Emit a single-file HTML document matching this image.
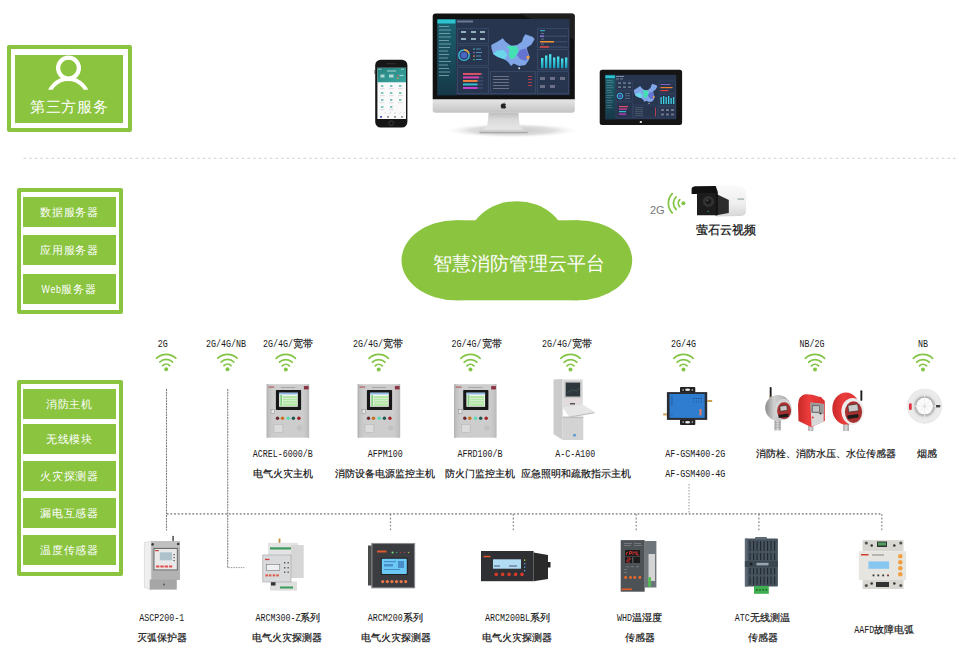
<!DOCTYPE html>
<html><head><meta charset="utf-8">
<style>
*{margin:0;padding:0;box-sizing:border-box}
html,body{width:959px;height:658px;overflow:hidden;background:#fff}
body{position:relative;font-family:"Liberation Sans",sans-serif;color:#222}
.a{position:absolute}
.g{background:#8bc43f}
.ob{position:absolute;border:4px solid #8bc43f;border-radius:2px}
.row{position:absolute;left:23px;width:93px;background:#8bc43f;color:#fff;font-size:11px;letter-spacing:.9px;text-align:center;line-height:30px;height:30px}
.lbl{position:absolute;font-size:10px;white-space:nowrap;text-align:center;transform:translateX(-50%);line-height:12px;color:#222}
.wl{position:absolute;font-size:10px;white-space:nowrap;transform:translateX(-50%);line-height:12px;color:#222}
.tl{font-family:"Liberation Mono",monospace;font-size:10.2px;fill:#1a1a1a}
.tc{font-family:"Liberation Sans",sans-serif;font-size:10px;fill:#111;stroke:#111;stroke-width:.18}
.hd{position:absolute;border-top:2px dotted #777}
.vd{position:absolute;border-left:1px dashed #888}
</style></head>
<body>
<!-- box 1 -->
<div class="ob" style="left:7px;top:45px;width:125px;height:87px"></div>
<div class="a g" style="left:15px;top:55px;width:108px;height:68px"></div>
<svg class="a" style="left:15px;top:55px" width="108" height="68" viewBox="0 0 108 68">
 <defs><clipPath id="cp1"><rect x="0" y="0" width="108" height="34.7"/></clipPath></defs>
 <circle cx="53.5" cy="13.1" r="10.4" fill="none" stroke="#fff" stroke-width="4.2"/>
 <circle cx="53.2" cy="44" r="20" fill="none" stroke="#fff" stroke-width="4" clip-path="url(#cp1)"/>
</svg>
<div class="a" style="left:15px;top:98px;width:108px;text-align:center;color:#fff;font-size:15px;line-height:18px;letter-spacing:.6px;text-indent:.6px">第三方服务</div>

<!-- dotted separator -->


<!-- box 2 -->
<div class="ob" style="left:17px;top:188px;width:106px;height:126px"></div>
<div class="row" style="top:197px">数据服务器</div>
<div class="row" style="top:235px">应用服务器</div>
<div class="row" style="top:274px"><span style="display:inline-block;transform:scaleX(.8);margin:0 -3px 0 -3px">Web</span>服务器</div>

<!-- box 3 -->
<div class="ob" style="left:17px;top:380px;width:106px;height:196px"></div>
<div class="row" style="top:389px">消防主机</div>
<div class="row" style="top:424px">无线模块</div>
<div class="row" style="top:461px">火灾探测器</div>
<div class="row" style="top:498px">漏电互感器</div>
<div class="row" style="top:535px">温度传感器</div>


<svg class="a" style="left:0;top:0" width="959" height="658" viewBox="0 0 959 658">
<defs>
 <linearGradient id="chin" x1="0" y1="0" x2="0" y2="1"><stop offset="0" stop-color="#e6e6e6"/><stop offset="1" stop-color="#c4c4c4"/></linearGradient>
 <linearGradient id="neck" x1="0" y1="0" x2="1" y2="0"><stop offset="0" stop-color="#bdbdbd"/><stop offset=".5" stop-color="#e4e4e4"/><stop offset="1" stop-color="#c8c8c8"/></linearGradient>
 <linearGradient id="camb" x1="0" y1="0" x2="0" y2="1"><stop offset="0" stop-color="#fafafa"/><stop offset=".6" stop-color="#eeeeee"/><stop offset="1" stop-color="#d6d6d6"/></linearGradient>
 <linearGradient id="cabg" x1="0" y1="0" x2="1" y2="0"><stop offset="0" stop-color="#bcbcbc"/><stop offset=".15" stop-color="#cdcdcd"/><stop offset=".85" stop-color="#cdcdcd"/><stop offset="1" stop-color="#bdbdbd"/></linearGradient>
 <g id="wf" fill="none" stroke="#82c444" stroke-width="1.75" stroke-linecap="round">
  <path d="M-9.6 -11.2 A14 14 0 0 1 9.6 -11.2"/>
  <path d="M-6.3 -7.3 A8.7 8.7 0 0 1 6.3 -7.3"/>
  <path d="M-3.5 -3.7 A5.1 5.1 0 0 1 3.5 -3.7"/>
  <circle cx="0" cy="0" r="2" fill="#82c444" stroke="none"/>
 </g>
</defs>
<path d="M23.5 158.3 H957" stroke="#cfcfcf" stroke-width="1" stroke-dasharray="2.5 3.1"/>
<!-- cloud -->
<g fill="#8bc43f">
 <ellipse cx="455.6" cy="260.3" rx="54.1" ry="40"/>
 <ellipse cx="578.1" cy="260.3" rx="54.1" ry="40"/>
 <rect x="455.6" y="220.3" width="122.5" height="80"/>
 <ellipse cx="516.85" cy="245" rx="50" ry="43.8"/>
</g>
<!-- wifi icons -->
<use href="#wf" x="166.2" y="369.3"/>
<use href="#wf" x="227.5" y="369.3"/>
<use href="#wf" x="285.8" y="369.5"/>
<use href="#wf" x="378.7" y="369.5"/>
<use href="#wf" x="470.5" y="369.5"/>
<use href="#wf" x="570.5" y="369.5"/>
<use href="#wf" x="683.5" y="369.5"/>
<use href="#wf" x="815" y="369.5"/>
<use href="#wf" x="923" y="369.5"/>
<use href="#wf" transform="translate(683.4 203.2) rotate(-90)"/>
<!-- lines -->
<g fill="none" stroke="#8a8a8a">
 <path d="M166.5 389 V530.6 M227.7 389 V567.6" stroke="#808080" stroke-width="1.1" stroke-dasharray="2 0.8"/><path d="M228.3 567.6 H244.4" stroke="#999" stroke-width="1" stroke-dasharray="1.5 1"/>
 <path d="M166.8 513.9 H882" stroke="#999" stroke-width="1.8" stroke-dasharray="1.8 1.85"/>
 <path d="M390.5 514 V531 M513.3 514 V531 M636.2 514 V531 M758.9 514 V531 M881.8 514 V531" stroke-width="1.2" stroke-dasharray="1.8 1.8"/><path d="M689 484 V514" stroke="#999" stroke-width="1" stroke-dasharray="1.5 1.5"/>
</g>
<!-- monitor -->
<radialGradient id="shd" cx=".5" cy=".5" r=".5"><stop offset="0" stop-color="#c4c4c4"/><stop offset=".6" stop-color="#dedede"/><stop offset="1" stop-color="#fff" stop-opacity="0"/></radialGradient>
<linearGradient id="neck2" x1="0" y1="0" x2="0" y2="1"><stop offset="0" stop-color="#bdbdbd"/><stop offset=".35" stop-color="#dadada"/><stop offset=".8" stop-color="#e6e6e6"/><stop offset="1" stop-color="#b8b8b8"/></linearGradient>
<ellipse cx="512" cy="130.5" rx="70" ry="7.5" fill="url(#shd)"/>
<path d="M488.7 112.5 H518.4 L519.5 124 Q520.5 129.5 527.7 130.5 V133 H479.5 V130.5 Q486.5 129.5 487.5 124 Z" fill="url(#neck2)"/>
<rect x="479.5" y="132" width="48.2" height="1.3" fill="#aaa"/>
<path d="M432.7 99 H574.8 V110 Q574.8 112.7 572 112.7 H435.5 Q432.7 112.7 432.7 110 Z" fill="url(#chin)"/>
<path d="M432.7 16.5 Q432.7 13.6 435.6 13.6 H571.9 Q574.8 13.6 574.8 16.5 V99.3 H432.7 Z" fill="#111"/>
<path d="M520 13.6 H571.9 Q574.8 13.6 574.8 16.5 V40 Z" fill="#2a2a2a" opacity=".6"/>
<path d="M503.7 103.6 C505.5 103.3 506 104.3 506 104.3 C505 105 505.2 106.5 506.2 107 C505.8 108 505 108.6 504.5 108.6 C504 108.6 503.8 108.3 503.3 108.3 C502.8 108.3 502.5 108.6 502 108.6 C501.2 108.4 500.6 107 500.8 105.5 C501 104 502.5 103.4 503.7 103.6 Z M503.8 103.2 C503.8 102.6 504.3 102.1 504.9 102" fill="#222"/>
<rect x="437.4" y="19" width="132.3" height="76.2" fill="#27354f"/>
<linearGradient id="sb" x1="0" y1="0" x2="0" y2="1"><stop offset="0" stop-color="#1b6270"/><stop offset="1" stop-color="#163848"/></linearGradient><rect x="437.4" y="19" width="18.5" height="76.2" fill="url(#sb)"/>
<rect x="437.4" y="19.5" width="18" height="4" fill="#2cc4cf"/>
<g fill="#8fb7c0" opacity=".7">
 <rect x="439" y="26" width="10" height="1"/><rect x="439" y="29.5" width="12" height="1"/><rect x="439" y="33" width="11" height="1"/>
 <rect x="439" y="36.5" width="12" height="1"/><rect x="439" y="40" width="10" height="1"/><rect x="439" y="43.5" width="12" height="1"/>
 <rect x="439" y="47" width="11" height="1"/><rect x="439" y="50.5" width="9" height="1"/><rect x="439" y="54" width="10" height="1"/>
 <rect x="439" y="57.5" width="9" height="1"/><rect x="439" y="61" width="12" height="1"/><rect x="439" y="64.5" width="9" height="1"/>
 <rect x="439" y="68" width="10" height="1"/><rect x="439" y="71.5" width="11" height="1"/><rect x="439" y="75" width="10" height="1"/>
</g>
<rect x="457" y="20.5" width="16" height="2" fill="#9aa8c0" opacity=".6"/>
<g fill="none" stroke="#3b4d6b" stroke-width=".8">
 <rect x="457.5" y="28.5" width="31" height="15"/>
 <rect x="457.5" y="45.5" width="31" height="20"/>
 <rect x="457.5" y="67.5" width="31" height="26"/>
 <rect x="490.5" y="71.5" width="45" height="22"/>
 <rect x="537.5" y="28.5" width="31" height="19"/>
 <rect x="537.5" y="49.5" width="31" height="20"/>
 <rect x="537.5" y="71.5" width="31" height="22"/>
</g>
<circle cx="464" cy="55.2" r="5.2" fill="none" stroke="#3bc0e8" stroke-width="1.4"/>
<path d="M464 50 A5.2 5.2 0 0 1 469 53.8" fill="none" stroke="#f0a040" stroke-width="1.4"/>
<circle cx="464" cy="55.2" r="3.3" fill="#4a66c8"/>
<g fill="#5fa8d0" opacity=".8"><rect x="473" y="48.5" width="2" height="1.2" fill="#40c0c0"/><rect x="476" y="48.5" width="5" height="1"/><rect x="473" y="52" width="2" height="1.2" fill="#9070d0"/><rect x="476" y="52" width="6" height="1"/><rect x="473" y="55.5" width="2" height="1.2" fill="#f09040"/><rect x="476" y="55.5" width="5" height="1"/><rect x="473" y="59" width="2" height="1.2" fill="#40c080"/><rect x="476" y="59" width="6" height="1"/></g>
<g fill="#b8d8e0" opacity=".75"><rect x="461" y="31" width="5" height="2"/><rect x="471" y="31" width="5" height="2"/><rect x="480" y="31" width="5" height="2"/><rect x="461" y="38" width="5" height="2"/><rect x="471" y="38" width="5" height="2"/><rect x="480" y="38" width="5" height="2"/></g>
<g>
 <rect x="463" y="73" width="20" height="1.9" fill="#3a4866"/><rect x="463" y="76.5" width="20" height="1.9" fill="#3a4866"/><rect x="463" y="80" width="20" height="1.9" fill="#3a4866"/><rect x="463" y="83.5" width="20" height="1.9" fill="#3a4866"/><rect x="463" y="87" width="20" height="1.9" fill="#3a4866"/>
 <rect x="463" y="73" width="18" height="1.9" fill="#e0506a"/>
 <rect x="463" y="76.5" width="16" height="1.9" fill="#e040b0"/>
 <rect x="463" y="80" width="14.5" height="1.9" fill="#f08040"/>
 <rect x="463" y="83.5" width="14.5" height="1.9" fill="#30c0d0"/>
 <rect x="463" y="87" width="14.5" height="1.9" fill="#d040d0"/>
</g>
<g id="map">
 <path d="M491.2 45.1 L497.3 41.7 L502.8 38.3 L505.5 41.7 L511 45.8 L517.1 45.1 L521.9 41.7 L523.3 37.6 L525.4 34.2 L532.9 36.9 L534.6 39.3 L531.5 44.4 L526.7 47.8 L527.4 50.6 L529.5 56.7 L528.8 60.1 L525.4 64.9 L519.2 66 L513.7 63.6 L511 66 L508.3 62.2 L504.8 59.5 L497.3 56.7 L493.2 53.9 L491.5 48.5 Z" fill="#80a6e8"/>
 <path d="M493.2 53.9 L497.3 50.5 L504 50 L507 55 L504.8 59.5 L497.3 56.7 Z" fill="#6cd6ea"/>
 <path d="M506.5 46.5 L511 45.8 L517 46.5 L518.5 51 L515 57.5 L511 59.5 L508.5 55 L510 50 Z" fill="#44e2b2"/>
 <path d="M520 50 L526 48.5 L528.5 55 L526 61 L520 59 L517 55 Z" fill="#5c62c8" opacity=".75"/>
 <circle cx="528" cy="57.3" r="1.6" fill="#f0a040"/>
 <circle cx="519.2" cy="68.3" r="1" fill="#d8e0f0"/>
</g>
<linearGradient id="cyb" x1="0" y1="0" x2="0" y2="1"><stop offset="0" stop-color="#4ae8f0"/><stop offset="1" stop-color="#1a9ab8"/></linearGradient>
<g fill="url(#cyb)">
 <rect x="541" y="58" width="2.4" height="10.2"/><rect x="545" y="55.5" width="2.4" height="12.7"/><rect x="549" y="54.2" width="2.4" height="14"/>
 <rect x="553" y="57.5" width="2.4" height="10.7"/><rect x="557" y="56.5" width="2.4" height="11.7"/><rect x="561" y="58.5" width="2.4" height="9.7"/><rect x="565" y="57.5" width="2.4" height="10.7"/>
</g>
<g fill="#3a4866"><rect x="540" y="35.5" width="27" height="1.5"/><rect x="540" y="41" width="27" height="1.5"/><rect x="540" y="46.2" width="27" height="1.5"/></g>
<rect x="540" y="35.5" width="4" height="1.5" fill="#9070d8"/>
<rect x="540" y="41" width="14" height="1.5" fill="#f09030"/>
<rect x="540" y="46.2" width="9" height="1.5" fill="#e04a40"/>
<g fill="#8a9ab8" opacity=".6"><rect x="541" y="33" width="3" height="1"/><rect x="541" y="38.5" width="3" height="1"/><rect x="541" y="43.7" width="3" height="1"/></g>
<rect x="540" y="30" width="5" height="1.2" fill="#3cc0d8" opacity=".8"/>
<g fill="#99a" opacity=".6"><rect x="493" y="76" width="16" height="1"/><rect x="493" y="79" width="16" height="1"/><rect x="493" y="82" width="16" height="1"/><rect x="493" y="85" width="16" height="1"/><rect x="493" y="88" width="16" height="1"/></g>
<g fill="#d04050" opacity=".8"><rect x="528" y="76" width="4" height="1"/><rect x="528" y="79" width="4" height="1"/><rect x="528" y="82" width="4" height="1"/><rect x="528" y="85" width="4" height="1"/></g>
<g fill="#aab" opacity=".5"><rect x="540" y="77" width="5" height="3"/><rect x="550" y="77" width="5" height="3"/><rect x="560" y="77" width="5" height="3"/><rect x="540" y="85" width="5" height="3"/><rect x="550" y="85" width="5" height="3"/></g>
<!-- phone -->
<linearGradient id="phh" x1="0" y1="0" x2="1" y2="1"><stop offset="0" stop-color="#26827e"/><stop offset="1" stop-color="#3aa6a0"/></linearGradient>
<rect x="375.2" y="59.7" width="32.2" height="67.8" rx="5.5" fill="#161616"/>
<rect x="374.6" y="70" width=".8" height="4" fill="#333"/>
<rect x="377.4" y="67.8" width="28.6" height="51.2" fill="#fafafa"/>
<rect x="377.4" y="67.8" width="28.6" height="14.5" fill="url(#phh)"/>
<g fill="#d8efec" opacity=".75"><rect x="378.5" y="68.8" width="3" height=".8"/><rect x="387" y="70.5" width="9" height="1"/><rect x="401" y="68.8" width="3" height=".8"/>
<rect x="380.5" y="74.5" width="4" height="3"/><rect x="389" y="74.5" width="4.5" height="3"/><rect x="397" y="75" width="1.5" height="1.5" fill="#e04a4a"/><rect x="399.5" y="75" width="4" height="1"/><rect x="397" y="77.5" width="1.5" height="1.5" fill="#f0a030"/></g>
<g fill="#7fc4bc"><rect x="381" y="85" width="2.4" height="2"/><rect x="390" y="85" width="2.4" height="2"/><rect x="399" y="85" width="2.4" height="2"/>
<rect x="381" y="92" width="2.4" height="2"/><rect x="390" y="92" width="2.4" height="2"/><rect x="399" y="92" width="2.4" height="2"/>
<rect x="381" y="99" width="2.4" height="2"/><rect x="390" y="99" width="2.4" height="2"/><rect x="399" y="99" width="2.4" height="2"/>
<rect x="381" y="106" width="2.4" height="2"/><rect x="390" y="106" width="2.4" height="2"/></g>
<g fill="#c8c8c8"><rect x="380" y="88.5" width="4.5" height=".6"/><rect x="389" y="88.5" width="4.5" height=".6"/><rect x="398" y="88.5" width="4.5" height=".6"/><rect x="380" y="95.5" width="4.5" height=".6"/><rect x="389" y="95.5" width="4.5" height=".6"/><rect x="398" y="95.5" width="4.5" height=".6"/><rect x="380" y="102.5" width="4.5" height=".6"/><rect x="389" y="102.5" width="4.5" height=".6"/><rect x="398" y="102.5" width="4.5" height=".6"/><rect x="380" y="109.5" width="4.5" height=".6"/><rect x="389" y="109.5" width="4.5" height=".6"/></g>
<g stroke="#bbb" stroke-width=".5"><path d="M384 114 L386 112 M389 114 L391 112 M394 114 L396 112 M399 114 L401 112 M403 114 L405 112"/></g>
<g fill="#999"><rect x="380" y="116" width="2" height="1.8" fill="#5060c0"/><rect x="387" y="116" width="2" height="1.8"/><rect x="394" y="116" width="2" height="1.8"/><rect x="401" y="116" width="2" height="1.8"/></g>
<rect x="386" y="63.3" width="10" height="1" rx=".5" fill="#333"/>
<circle cx="391.2" cy="123.3" r="2.4" fill="none" stroke="#444" stroke-width=".8"/>
<!-- tablet -->
<rect x="599.7" y="69.7" width="82.4" height="55.3" rx="2.5" fill="#151515"/>
<rect x="605.4" y="74.8" width="70.9" height="44.5" fill="#27354f"/>
<rect x="605.4" y="74.8" width="9.8" height="44.5" fill="url(#sb)"/>
<rect x="605.4" y="75.5" width="9.5" height="2.5" fill="#2cc4cf"/>
<g fill="#8fb7c0" opacity=".6"><rect x="606.5" y="80" width="6" height=".6"/><rect x="606.5" y="82.5" width="7" height=".6"/><rect x="606.5" y="85" width="6" height=".6"/><rect x="606.5" y="87.5" width="7" height=".6"/><rect x="606.5" y="90" width="5" height=".6"/><rect x="606.5" y="92.5" width="6" height=".6"/><rect x="606.5" y="95" width="7" height=".6"/><rect x="606.5" y="97.5" width="5" height=".6"/><rect x="606.5" y="100" width="6" height=".6"/><rect x="606.5" y="102.5" width="6" height=".6"/><rect x="606.5" y="105" width="5" height=".6"/><rect x="606.5" y="107.5" width="6" height=".6"/></g>
<rect x="616" y="76" width="8" height="1" fill="#aab4c8" opacity=".7"/>
<rect x="616" y="78.3" width="3" height="1.2" fill="#aab4c8" opacity=".5"/><rect x="620" y="78.3" width="3" height="1.2" fill="#aab4c8" opacity=".5"/>
<g fill="none" stroke="#3b4d6b" stroke-width=".5">
 <rect x="616" y="81" width="16.5" height="9"/><rect x="616" y="91" width="16.5" height="10"/><rect x="616" y="102" width="16.5" height="16"/>
 <rect x="633.5" y="105" width="24.5" height="13"/>
 <rect x="659" y="81" width="16.5" height="12"/><rect x="659" y="94" width="16.5" height="12"/><rect x="659" y="107" width="16.5" height="11"/>
</g>
<g fill="#b8d8e0" opacity=".6"><rect x="618" y="82.5" width="3" height="1.2"/><rect x="623" y="82.5" width="3" height="1.2"/><rect x="628" y="82.5" width="3" height="1.2"/><rect x="618" y="86.5" width="3" height="1.2"/><rect x="623" y="86.5" width="3" height="1.2"/><rect x="628" y="86.5" width="3" height="1.2"/></g>
<use href="#map" transform="translate(633.9 83.4) scale(0.54 0.58) translate(-491.2 -33.8)"/>
<circle cx="620" cy="96" r="2.8" fill="none" stroke="#3bc0e8" stroke-width="1"/>
<circle cx="620" cy="96" r="1.6" fill="#4a66c8"/>
<g fill="#7fa8c0" opacity=".7"><rect x="625" y="93" width="5" height=".7"/><rect x="625" y="95.5" width="5" height=".7"/><rect x="625" y="98" width="5" height=".7"/></g>
<g><rect x="619" y="106" width="9" height="1.2" fill="#e0506a"/><rect x="619" y="108.5" width="8" height="1.2" fill="#e040a0"/><rect x="619" y="111" width="7" height="1.2" fill="#30c0d0"/><rect x="619" y="113.5" width="7" height="1.2" fill="#d040d0"/></g>
<g fill="#99a" opacity=".55"><rect x="635" y="107.5" width="8" height=".6"/><rect x="635" y="109.5" width="8" height=".6"/><rect x="635" y="111.5" width="8" height=".6"/><rect x="635" y="113.5" width="8" height=".6"/><rect x="635" y="115.5" width="8" height=".6"/></g>
<g fill="#d04050" opacity=".8"><rect x="655" y="107.5" width="1" height="9"/></g>
<g><rect x="660.5" y="84" width="10" height="1" fill="#8060c0"/><rect x="660.5" y="87" width="12" height="1.2" fill="#f08030"/><rect x="660.5" y="90" width="8" height="1.2" fill="#e04040"/></g>
<g fill="#3cd0e0"><rect x="660.5" y="97" width="1.3" height="7"/><rect x="663" y="96" width="1.3" height="8"/><rect x="665.5" y="97" width="1.3" height="7"/><rect x="668" y="96" width="1.3" height="8"/><rect x="670.5" y="98" width="1.3" height="6"/><rect x="673" y="97" width="1.3" height="7"/></g>
<g fill="#aab" opacity=".55"><rect x="661" y="109" width="3" height="2"/><rect x="666" y="109" width="3" height="2"/><rect x="671" y="109" width="3" height="2"/><rect x="661" y="113.5" width="3" height="2"/><rect x="666" y="113.5" width="3" height="2"/><rect x="671" y="113.5" width="3" height="2"/></g>
<rect x="639.8" y="121" width="2" height="2" fill="#ddd"/>
<!-- camera -->
<path d="M716 186 Q730 184.5 741 186.5 Q746 188 746 193 V211 Q746 215.5 741 216 L716 216.5 Z" fill="url(#camb)"/>
<path d="M716.4 194 L728.8 199.9 V213 L715 215.5 Z" fill="#2c2c2c"/>
<path d="M691.6 188.5 Q692 186.5 695 186.3 L715.7 186 L717.8 192 V215.2 H697 V194 L691.6 194 Z" fill="#111"/>
<path d="M697 193 H716 V215 H697 Z" fill="#1c1c1c"/>
<circle cx="708.4" cy="201.4" r="5.5" fill="#333"/>
<circle cx="708.4" cy="201.4" r="3" fill="#1a1a1a"/>
<circle cx="707.3" cy="200.3" r="1" fill="#555"/>
<circle cx="708.2" cy="211.4" r=".8" fill="#2a7a70"/>
<rect x="737.5" y="198.5" width="6.5" height="1.2" fill="#9aa"/>
<!-- cabinets -->
<g id="cab">
 <rect x="266.7" y="384.2" width="42.4" height="53.5" fill="url(#cabg)"/>
 <rect x="266.7" y="384.2" width="1.4" height="53.5" fill="#b5b5b5"/>
 <rect x="307.7" y="384.2" width="1.4" height="53.5" fill="#bdbdbd"/>
 <rect x="275.9" y="389.9" width="25.2" height="20.1" rx=".8" fill="#171717"/>
 <rect x="279.1" y="392.7" width="18.7" height="14.1" fill="#f2f6ee"/>
 <rect x="279.1" y="392.7" width="18.7" height="1.7" fill="#8ab8e8"/>
 <rect x="280.3" y="395" width="1.8" height="11" fill="#7fd07f"/>
 <rect x="282.8" y="396" width="14.2" height="10" fill="#b4e6a8"/>
 <g fill="#f2f6ee"><rect x="282.8" y="398.2" width="14.2" height=".5"/><rect x="282.8" y="400.5" width="14.2" height=".5"/><rect x="282.8" y="402.8" width="14.2" height=".5"/></g>
 <rect x="271" y="409.7" width="3.7" height="3.7" fill="#e6e6e6" stroke="#888" stroke-width=".5"/>
 <circle cx="277.5" cy="418.2" r="1.7" fill="#6a2a30"/>
 <circle cx="282.5" cy="418.2" r="1.7" fill="#c87020"/>
 <circle cx="288.2" cy="418.2" r="1.8" fill="#5fd8b8"/>
 <circle cx="293.4" cy="418.2" r="1.7" fill="#205850"/>
 <circle cx="298.9" cy="418.2" r="1.7" fill="#a02028"/>
 <rect x="274" y="424.3" width="8.9" height="8.3" fill="#dcdcdc" stroke="#b0b0b0" stroke-width=".5"/>
 <circle cx="299.7" cy="428" r="2.8" fill="#c2c2c2"/>
 <rect x="303.9" y="386.1" width="4.7" height="3.3" fill="#8a3040"/>
 <rect x="268.4" y="386.5" width="5.8" height="1.2" fill="#b06060"/>
 <rect x="281" y="387.2" width="14" height=".7" fill="#999"/>
</g>
<use href="#cab" x="91" y="0"/>
<use href="#cab" x="187.3" y="0"/>
<!-- console -->
<path d="M553.5 379.5 L562.6 378.9 V440 L553.5 434 Z" fill="#cbcbcb"/>
<rect x="562.6" y="379.4" width="20.2" height="28.2" fill="#dddddd"/>
<rect x="564.3" y="381.2" width="17.2" height="16.8" fill="#c8c8c8"/>
<rect x="565.7" y="382.6" width="14.4" height="13.9" fill="#2e383c"/>
<path d="M567 393 L572 390 L577 391 L579 388" stroke="#5a7a70" stroke-width=".4" fill="none"/>
<rect x="565" y="398.5" width="16" height="4.5" fill="#e4dcdc"/>
<rect x="570" y="403" width="5" height="1.5" fill="#555"/>
<path d="M562.6 407.6 L582.8 404.5 L594.5 412 L569 416.5 Z" fill="#e6e6e6"/>
<path d="M569 416.5 L594.5 412 V413.2 L569 417.7 Z" fill="#bdbdbd"/>
<rect x="562.6" y="416.7" width="20.7" height="23.3" fill="#d3d3d3"/>
<rect x="562.6" y="416.7" width="20.7" height="1.5" fill="#c0c0c0"/>
<rect x="573" y="434" width="3" height="2.5" fill="#6aa0d0"/>
<!-- GSM -->
<rect x="680" y="386.9" width="15.3" height="6" rx="1" fill="#222"/>
<rect x="680" y="419" width="15.3" height="6" rx="1" fill="#222"/>
<ellipse cx="687.6" cy="389.8" rx="2.5" ry="1.3" fill="#e8e8e8"/>
<ellipse cx="687.6" cy="422.2" rx="2.5" ry="1.3" fill="#e8e8e8"/>
<rect x="666.9" y="392.1" width="40.3" height="27.8" fill="#2a2d33"/>
<rect x="669.5" y="394" width="35.2" height="23.9" fill="#2f7dd0"/>
<rect x="707.2" y="400" width="5" height="2" fill="#c8a050"/>
<rect x="663.2" y="413.4" width="3.7" height="2" fill="#c8a050"/>
<rect x="699.5" y="409" width="2" height="6.5" fill="#e87a60"/>
<rect x="671.5" y="396" width=".9" height="10" fill="#1f4f88" opacity=".7"/>
<rect x="671.5" y="414" width=".9" height="1.5" fill="#1f4f88" opacity=".7"/>
<g fill="#1f4f88" opacity=".6"><rect x="693.2" y="400.5" width=".8" height="2.5"/><rect x="695.8" y="400.5" width=".8" height="2.5"/><rect x="698.5" y="400.5" width=".8" height="2.5"/><rect x="701" y="400.5" width=".8" height="2.5"/></g>
<g fill="#eee"><path d="M682 389.9 L683.5 388.9 V390.9 Z M693.3 389.9 L691.8 388.9 V390.9 Z M682 422.1 L683.5 421.1 V423.1 Z M693.3 422.1 L691.8 421.1 V423.1 Z"/></g>
<g fill="#1a3a60"><rect x="693.2" y="398" width="1" height="1"/><rect x="695.8" y="398" width="1" height="1"/><rect x="698.5" y="398" width="1" height="1"/><rect x="701" y="398" width="1" height="1"/></g>
<!-- sensors -->
<linearGradient id="slv" x1="0" y1="0" x2="1" y2="0"><stop offset="0" stop-color="#8a8a8a"/><stop offset=".35" stop-color="#d0d0d0"/><stop offset=".7" stop-color="#b8b8b8"/><stop offset="1" stop-color="#9a9a9a"/></linearGradient>
<linearGradient id="stem" x1="0" y1="0" x2="1" y2="0"><stop offset="0" stop-color="#a0a0a0"/><stop offset=".5" stop-color="#dcdcdc"/><stop offset="1" stop-color="#9a9a9a"/></linearGradient>
<linearGradient id="redc" x1="0" y1="0" x2="1" y2="0"><stop offset="0" stop-color="#c82828"/><stop offset=".4" stop-color="#ec3c3c"/><stop offset="1" stop-color="#d83232"/></linearGradient>
<rect x="769.7" y="386.9" width="1.9" height="11" rx=".9" fill="#1e1e1e"/>
<rect x="769.5" y="396.5" width="2.3" height="2" fill="#a08040"/>
<rect x="774.5" y="419" width="6.2" height="11.5" fill="url(#stem)"/>
<g stroke="#8a8a8a" stroke-width=".4"><path d="M774.5 422.5 H780.7 M774.5 425 H780.7 M774.5 427.5 H780.7"/></g>
<ellipse cx="778" cy="407.8" rx="12.8" ry="12.9" fill="url(#slv)"/>
<ellipse cx="783.4" cy="409.5" rx="8.6" ry="10.7" fill="#d4d4d4"/>
<ellipse cx="784.1" cy="410.7" rx="7" ry="8.4" fill="#a83030"/>
<rect x="780" y="405.8" width="7" height="5" fill="#c8c8c8" stroke="#222" stroke-width=".5" transform="rotate(-8 783.5 408)"/>
<rect x="778.5" y="414.2" width="10" height="3.2" fill="#1c1c1c" transform="rotate(-8 783.5 416)"/>
<rect x="808.2" y="425" width="5.1" height="6" fill="url(#stem)"/>
<path d="M798 405 Q798.5 395.5 805 394.2 Q812 393.8 818 396.5 L821 397 L824.8 401 V421 L811 427 L798.5 421 Z" fill="url(#redc)"/>
<path d="M810.5 402.4 L823.7 404 V422 L811.5 426.5 Z" fill="#d8d8d8"/>
<path d="M810.5 402.4 L823.7 404 V414 L810.8 412.5 Z" fill="#9a9a9a"/>
<rect x="812.2" y="405.8" width="7.4" height="6.3" fill="#c4c4c4" stroke="#333" stroke-width=".5"/>
<circle cx="812.8" cy="417.5" r="1" fill="#d84040"/>
<circle cx="820.5" cy="413.5" r="1" fill="#333"/>
<rect x="860.4" y="390.3" width="1.9" height="10.5" rx=".9" fill="#1e1e1e"/>
<rect x="843.2" y="423" width="5.7" height="8" fill="url(#stem)"/>
<ellipse cx="846" cy="408.6" rx="13.7" ry="16" fill="url(#redc)"/>
<ellipse cx="852.6" cy="411.3" rx="11.2" ry="13.4" fill="#ececec"/>
<ellipse cx="853.5" cy="412.1" rx="8.6" ry="10.9" fill="#a83030"/>
<rect x="848.3" y="404.7" width="9.8" height="6.8" fill="#cacaca" stroke="#222" stroke-width=".5" transform="rotate(-8 853 408)"/>
<rect x="847.5" y="414.8" width="11" height="3.5" fill="#1c1c1c" transform="rotate(-8 853 416.5)"/>
<!-- smoke -->
<radialGradient id="smk" cx=".5" cy=".5" r=".5"><stop offset=".55" stop-color="#e2e2e2"/><stop offset=".85" stop-color="#ececec"/><stop offset="1" stop-color="#e6e6e6"/></radialGradient>
<radialGradient id="smr" cx=".5" cy=".5" r=".5"><stop offset=".7" stop-color="#9c9c9c"/><stop offset="1" stop-color="#d6d6d6"/></radialGradient>
<circle cx="924.6" cy="406.2" r="17.5" fill="url(#smk)"/>
<circle cx="924.6" cy="406.2" r="11" fill="url(#smr)"/>
<circle cx="924.6" cy="406.2" r="8.4" fill="#fbfbfb"/>
<g stroke="#dcdcdc" stroke-width=".4"><path d="M924.6 398.5 V414 M917 406.2 H932.3 M919.2 400.8 L930 411.6 M930 400.8 L919.2 411.6"/></g>
<circle cx="924.6" cy="406.2" r="1.2" fill="none" stroke="#ccc" stroke-width=".4"/>
<g stroke="#f4f4f4" stroke-width=".8"><path d="M924.6 395 V397.5 M924.6 415 V417.5 M913.4 406.2 H916 M933.2 406.2 H935.8"/></g>
<rect x="909" y="403.2" width="2.7" height="6.8" rx="1.2" fill="#e23040"/>
<rect x="936" y="405" width="4.2" height="2.4" fill="#444"/>
<!-- ASCP200 -->
<rect x="172.3" y="535.9" width="1.6" height="5.8" fill="#555"/>
<path d="M144.4 542.5 L151.3 541.2 V589.6 L144.4 587.5 Z" fill="#efefef"/>
<path d="M144.4 542.5 L151.3 541.2 V589.6 L144.4 587.5 Z" fill="none" stroke="#d0d0d0" stroke-width=".6"/>
<rect x="151.3" y="541.2" width="28.7" height="38.8" fill="#b2b2b2"/>
<rect x="151.3" y="541.2" width="28.7" height="6" fill="#c0c0c0"/>
<rect x="149.7" y="579.5" width="27.1" height="10.1" fill="#a6a6a6"/>
<circle cx="152.6" cy="544.4" r="1.3" fill="#3a3a3a"/>
<circle cx="178.2" cy="544" r="1.3" fill="#3a3a3a"/>
<rect x="153.5" y="548" width="24.3" height="22.4" fill="#6a6a6a"/>
<rect x="154.5" y="549" width="22.3" height="20.4" fill="#e9e9e9"/>
<rect x="155.2" y="550" width="3.5" height="1.2" fill="#c03838"/>
<rect x="159.8" y="552.3" width="12.2" height="8" fill="#aec2cc"/>
<g fill="#e05050"><rect x="156" y="565.5" width="3.4" height="2"/><rect x="160.3" y="565.5" width="3.4" height="2"/><rect x="164.6" y="565.5" width="3.4" height="2"/><rect x="168.9" y="565.5" width="3.4" height="2"/></g>
<g fill="#444"><rect x="173.5" y="554" width="1.2" height="1.2"/><rect x="173.5" y="557" width="1.2" height="1.2"/><rect x="173.5" y="560" width="1.2" height="1.2"/></g>
<circle cx="164" cy="584.5" r="1" fill="#555"/>
<!-- ARCM300-Z -->
<rect x="278.6" y="538.5" width="1.8" height="5" fill="#c09040"/>
<rect x="268" y="542.8" width="30" height="12.7" fill="#e3e3e3"/>
<rect x="270" y="547.3" width="26" height="2.2" fill="#3a9a5a"/>
<rect x="291" y="545" width="12.7" height="33" fill="#d6d6d6"/>
<rect x="270" y="581.5" width="27" height="9.1" fill="#dedede"/>
<rect x="271" y="581.5" width="4.5" height="4" fill="#333"/>
<rect x="280" y="586.5" width="13" height="2" fill="#3a9a5a"/>
<rect x="262.8" y="555" width="28.2" height="27" fill="#d8dadc"/>
<rect x="262.8" y="555" width="28.2" height="27" fill="none" stroke="#a0a0a0" stroke-width=".6"/>
<rect x="265" y="558.8" width="4.5" height="1.3" fill="#d04040"/>
<rect x="266.5" y="564.6" width="13.3" height="5.8" fill="#eef0f2" stroke="#666" stroke-width=".5"/>
<g fill="#e05a4a"><rect x="265.4" y="574.4" width="2.6" height="2"/><rect x="268.8" y="574.4" width="2.6" height="2"/><rect x="272.7" y="574.4" width="2.6" height="2"/><rect x="276.3" y="574.4" width="2.6" height="2"/></g>
<g fill="#555"><rect x="284" y="562" width="1.3" height="1.5"/><rect x="287.5" y="562" width="1.3" height="1.5"/><rect x="284" y="567" width="1.3" height="1.5"/><rect x="287.5" y="567" width="1.3" height="1.5"/><rect x="284" y="571.5" width="1.3" height="1.5"/><rect x="287.5" y="571.5" width="1.3" height="1.5"/></g>
<!-- ARCM200 -->
<rect x="368" y="545.5" width="4.5" height="40" fill="#4a4a4a"/>
<rect x="371.7" y="543.3" width="43.1" height="44.7" fill="#3a3c40"/>
<rect x="371.9" y="543.5" width="42.7" height="44.3" fill="none" stroke="#8c8c92" stroke-width="1.1"/>
<rect x="380.8" y="557.7" width="27" height="17.3" rx="1" fill="#1e2022"/>
<rect x="377" y="550.5" width="9.5" height="2" fill="#d85a30"/>
<g><circle cx="392.6" cy="552.5" r="1.1" fill="#70e070"/><circle cx="396.6" cy="552.5" r=".7" fill="#40a070"/><circle cx="400.4" cy="552.5" r=".7" fill="#a04040"/><circle cx="404.4" cy="552.5" r=".7" fill="#a04070"/><circle cx="408.6" cy="552.5" r=".8" fill="#a0c040"/></g>
<rect x="381.8" y="558.7" width="25" height="15.3" rx=".8" fill="#6cc8f4"/>
<g fill="#3a78b8" opacity=".7"><rect x="384" y="561" width="12" height="1.2"/><rect x="384" y="564" width="9" height="2.5"/><rect x="398" y="561" width="6" height="7"/><rect x="384" y="569" width="16" height="1"/></g>
<g fill="#f07848"><circle cx="382.7" cy="581.6" r="1.6"/><circle cx="387.3" cy="581.6" r="1.6"/><circle cx="391.9" cy="581.6" r="1.6"/><circle cx="396.5" cy="581.6" r="1.6"/><circle cx="401.1" cy="581.6" r="1.6"/><circle cx="405.7" cy="581.6" r="1.6"/></g>
<!-- ARCM200BL -->
<path d="M533.6 552.6 L548 555 V579 L533.6 581.2 Z" fill="#2a2a2a"/>
<rect x="548" y="562" width="2.5" height="5.5" fill="#222"/>
<rect x="481" y="551" width="52.6" height="30.2" fill="#2e3033"/>
<rect x="483.5" y="555.8" width="7" height="1.5" fill="#e05a2a"/>
<rect x="493" y="559.3" width="28" height="9.4" fill="#b2dcf4"/>
<g fill="#5a6a90" opacity=".6"><rect x="494" y="565" width="6" height="2"/><rect x="509" y="565" width="8" height="2"/></g>
<g fill="#5a9ae0"><rect x="524" y="559.5" width="1.3" height="1.3" fill="#b0e040"/><rect x="524" y="563" width="1.3" height="1.3"/><rect x="524" y="566.5" width="1.3" height="1.3"/><rect x="524" y="570" width="1.3" height="1.3"/></g>
<g fill="#d83a2a"><circle cx="496.2" cy="574.4" r="1.8"/><circle cx="502.7" cy="574.4" r="1.8"/><circle cx="509.1" cy="574.4" r="1.8"/><circle cx="515.6" cy="574.4" r="1.8"/><circle cx="522" cy="574.4" r="1.8"/></g>
<!-- WHD -->
<rect x="644.7" y="541" width="11.7" height="46.5" fill="#6e767b"/>
<rect x="648.5" y="554" width="6.5" height="27" fill="#d4d4d4"/>
<rect x="648.3" y="577" width="2.6" height="10" rx="1" fill="#50c050"/>
<rect x="620.7" y="540.1" width="24" height="51.6" fill="#4d5256"/>
<rect x="625" y="550" width="15" height="6.3" fill="#1c1c1c"/>
<g fill="none" stroke="#e83030" stroke-width=".8"><path d="M626.5 555 V552.5 H628 M629.5 555 V551.5 H631.5 V553.5 H629.5 M633 555 V551.5 L634.5 553 L636 551.5 V555 M637 551.5 V555 H639"/></g>
<rect x="625" y="557" width="7" height="6" fill="#1c1c1c"/>
<path d="M627 558 H630 V560 H627 V562 H630" fill="none" stroke="#e83030" stroke-width=".8"/>
<rect x="633.5" y="557" width="6.5" height="6" fill="#1c1c1c"/>
<g fill="#9aa0a4" opacity=".7"><rect x="624" y="543" width="8" height=".7"/><rect x="634" y="543" width="7" height=".7"/><rect x="624" y="545" width="7" height=".7"/><rect x="634" y="545" width="8" height=".7"/><rect x="626" y="566.5" width="3" height=".7"/><rect x="631" y="566.5" width="3" height=".7"/><rect x="636" y="566.5" width="3" height=".7"/><rect x="624" y="569" width="3" height=".7"/><rect x="624" y="572" width="3" height=".7"/></g>
<g fill="#f06a2a"><circle cx="625.6" cy="577.5" r="1.4"/><circle cx="630.5" cy="577.5" r="1.4"/><circle cx="634.7" cy="577.5" r="1.4"/><circle cx="639.8" cy="577.5" r="1.4"/></g>
<rect x="621.5" y="588.5" width="10.5" height="1.6" fill="#e0602a"/>
<!-- ATC -->
<rect x="744.9" y="538.5" width="33" height="48" rx="1" fill="#46535f"/>
<rect x="744.9" y="538.5" width="2.5" height="48" fill="#5c6a76"/>
<rect x="755" y="537" width="12" height="2.5" rx="1" fill="#5e6a74"/>
<g fill="#222a31"><rect x="749.5" y="541" width="1.1" height="10"/><rect x="753" y="541" width="1.1" height="10"/><rect x="756.5" y="541" width="1.1" height="10"/><rect x="760" y="541" width="1.1" height="10"/><rect x="763.5" y="541" width="1.1" height="10"/><rect x="767" y="541" width="1.1" height="10"/><rect x="770.5" y="541" width="1.1" height="10"/><rect x="774" y="541" width="1.1" height="10"/></g>
<g fill="#222a31"><rect x="749.5" y="553" width="1.1" height="7"/><rect x="753" y="553" width="1.1" height="7"/><rect x="756.5" y="553" width="1.1" height="7"/><rect x="760" y="553" width="1.1" height="7"/><rect x="763.5" y="553" width="1.1" height="7"/><rect x="767" y="553" width="1.1" height="7"/><rect x="770.5" y="553" width="1.1" height="7"/><rect x="774" y="553" width="1.1" height="7"/></g>
<g fill="#222a31"><rect x="749.5" y="568" width="1.1" height="6.5"/><rect x="753" y="568" width="1.1" height="6.5"/><rect x="756.5" y="568" width="1.1" height="6.5"/><rect x="760" y="568" width="1.1" height="6.5"/><rect x="763.5" y="568" width="1.1" height="6.5"/><rect x="767" y="568" width="1.1" height="6.5"/><rect x="770.5" y="568" width="1.1" height="6.5"/><rect x="774" y="568" width="1.1" height="6.5"/></g>
<g fill="#222a31"><rect x="749.5" y="576.5" width="1.1" height="8"/><rect x="753" y="576.5" width="1.1" height="8"/><rect x="756.5" y="576.5" width="1.1" height="8"/><rect x="760" y="576.5" width="1.1" height="8"/><rect x="763.5" y="576.5" width="1.1" height="8"/><rect x="767" y="576.5" width="1.1" height="8"/><rect x="770.5" y="576.5" width="1.1" height="8"/><rect x="774" y="576.5" width="1.1" height="8"/></g>
<rect x="744.9" y="561" width="33" height="6" fill="#3a4650"/>
<circle cx="751" cy="564" r="1.5" fill="#1a2228"/>
<rect x="756.5" y="562.8" width="12" height="2.6" fill="#b8c4d0" opacity=".75"/>
<rect x="754" y="586" width="14.8" height="7.8" fill="#3fb050"/>
<g fill="#2a6a34"><circle cx="756.8" cy="590" r="1"/><circle cx="760" cy="590" r="1"/><circle cx="763.2" cy="590" r="1"/><circle cx="766.4" cy="590" r="1"/></g>
<!-- AAFD -->
<rect x="862.6" y="540.1" width="40.9" height="11.2" fill="#d9d7d1"/>
<rect x="877" y="541.5" width="10" height="5.5" fill="#333"/>
<rect x="878" y="542.5" width="8" height="3" fill="#50a060"/>
<circle cx="866.3" cy="543" r="1.6" fill="#555"/>
<circle cx="900.8" cy="543" r="1.6" fill="#555"/>
<circle cx="871.7" cy="545.5" r="1.3" fill="#333"/>
<circle cx="894.3" cy="545.5" r="1.3" fill="#333"/>
<rect x="858.8" y="551.3" width="47.4" height="28.7" fill="#e7e5df"/>
<rect x="861" y="554" width="7.5" height="1.5" fill="#d04030"/>
<rect x="872" y="554.5" width="12" height="1" fill="#888"/>
<rect x="868.4" y="561.4" width="20.7" height="7.4" fill="#86c6f0"/>
<g fill="#f0a040"><circle cx="900.3" cy="556.2" r="2.3"/><circle cx="900.3" cy="562.2" r="2.3"/><circle cx="900.3" cy="568.2" r="2.3"/><circle cx="900.3" cy="574.2" r="2.3"/></g>
<g fill="#333"><rect x="872.6" y="574.5" width="1.8" height="1.8"/><rect x="877.4" y="574.5" width="1.8" height="1.8"/><rect x="882.3" y="574.5" width="1.8" height="1.8"/><rect x="887.1" y="574.5" width="1.8" height="1.8" fill="#803030"/></g>
<rect x="862.6" y="580" width="40.9" height="9" fill="#d9d7d1"/>
<rect x="876" y="582" width="13" height="5" fill="#333"/>
<circle cx="866.3" cy="585.5" r="1.6" fill="#555"/>
<circle cx="900.8" cy="585.5" r="1.6" fill="#555"/>
<circle cx="871.7" cy="583.5" r="1.3" fill="#333"/>
<circle cx="894.3" cy="583.5" r="1.3" fill="#333"/>
<!--DEVICES-->
<!--LABELS-->
<text class="tl" x="157.7" y="346.8" textLength="10.0" lengthAdjust="spacingAndGlyphs">2G</text>
<text class="tl" x="206.0" y="346.8" textLength="40.0" lengthAdjust="spacingAndGlyphs">2G/4G/NB</text>
<text class="tl" x="263.0" y="346.8" textLength="30.0" lengthAdjust="spacingAndGlyphs">2G/4G/</text>
<text class="tc" x="293.0" y="346.8">宽带</text>
<text class="tl" x="353.1" y="346.8" textLength="30.0" lengthAdjust="spacingAndGlyphs">2G/4G/</text>
<text class="tc" x="383.1" y="346.8">宽带</text>
<text class="tl" x="451.5" y="346.8" textLength="30.0" lengthAdjust="spacingAndGlyphs">2G/4G/</text>
<text class="tc" x="481.5" y="346.8">宽带</text>
<text class="tl" x="542.0" y="346.8" textLength="30.0" lengthAdjust="spacingAndGlyphs">2G/4G/</text>
<text class="tc" x="572.0" y="346.8">宽带</text>
<text class="tl" x="671.0" y="346.8" textLength="25.0" lengthAdjust="spacingAndGlyphs">2G/4G</text>
<text class="tl" x="799.5" y="346.8" textLength="25.0" lengthAdjust="spacingAndGlyphs">NB/2G</text>
<text class="tl" x="917.9" y="346.8" textLength="10.0" lengthAdjust="spacingAndGlyphs">NB</text>
<text class="tl" x="252.8" y="457.3" textLength="60.0" lengthAdjust="spacingAndGlyphs">ACREL-6000/B</text>
<text class="tc" x="252.8" y="477.3">电气火灾主机</text>
<text class="tl" x="367.7" y="457.3" textLength="35.0" lengthAdjust="spacingAndGlyphs">AFPM100</text>
<text class="tc" x="335.1" y="477.3">消防设备电源监控主机</text>
<text class="tl" x="457.6" y="457.3" textLength="45.0" lengthAdjust="spacingAndGlyphs">AFRD100/B</text>
<text class="tc" x="444.9" y="477.3">防火门监控主机</text>
<text class="tl" x="555.2" y="457.3" textLength="40.0" lengthAdjust="spacingAndGlyphs">A-C-A100</text>
<text class="tc" x="520.5" y="477.3">应急照明和疏散指示主机</text>
<text class="tl" x="665.3" y="457.3" textLength="60.0" lengthAdjust="spacingAndGlyphs">AF-GSM400-2G</text>
<text class="tl" x="665.3" y="477.3" textLength="60.0" lengthAdjust="spacingAndGlyphs">AF-GSM400-4G</text>
<text class="tc" x="755.5" y="457.3">消防栓、消防水压、水位传感器</text>
<text class="tc" x="917.4" y="457.3">烟感</text>
<text class="tl" x="139.2" y="620.7" textLength="45.0" lengthAdjust="spacingAndGlyphs">ASCP200-1</text>
<text class="tc" x="137.4" y="641.0">灭弧保护器</text>
<text class="tl" x="255.4" y="620.7" textLength="45.0" lengthAdjust="spacingAndGlyphs">ARCM300-Z</text>
<text class="tc" x="300.4" y="620.7">系列</text>
<text class="tc" x="252.4" y="641.0">电气火灾探测器</text>
<text class="tl" x="367.8" y="620.7" textLength="35.0" lengthAdjust="spacingAndGlyphs">ARCM200</text>
<text class="tc" x="402.8" y="620.7">系列</text>
<text class="tc" x="360.9" y="641.0">电气火灾探测器</text>
<text class="tl" x="485.0" y="620.7" textLength="45.0" lengthAdjust="spacingAndGlyphs">ARCM200BL</text>
<text class="tc" x="530.0" y="620.7">系列</text>
<text class="tc" x="482.2" y="641.0">电气火灾探测器</text>
<text class="tl" x="617.1" y="620.7" textLength="15.0" lengthAdjust="spacingAndGlyphs">WHD</text>
<text class="tc" x="632.1" y="620.7">温湿度</text>
<text class="tc" x="624.9" y="641.0">传感器</text>
<text class="tl" x="734.7" y="620.7" textLength="15.0" lengthAdjust="spacingAndGlyphs">ATC</text>
<text class="tc" x="749.7" y="620.7">无线测温</text>
<text class="tc" x="747.6" y="641.0">传感器</text>
<text class="tl" x="854.2" y="633.0" textLength="20.0" lengthAdjust="spacingAndGlyphs">AAFD</text>
<text class="tc" x="874.2" y="633.0">故障电弧</text>
<!--/LABELS-->
</svg>
<div class="a" style="left:403px;top:252.5px;width:232px;text-align:center;color:#fff;font-size:19px;line-height:22px;letter-spacing:.2px">智慧消防管理云平台</div>

<!-- camera label -->
<div class="a" style="left:696px;top:223px;font-size:12px;line-height:14px;color:#111;-webkit-text-stroke:.25px #111">萤石云视频</div>
<div class="a" style="left:650px;top:204px;font-size:11px;line-height:12px;color:#777">2G</div>




</body></html>
